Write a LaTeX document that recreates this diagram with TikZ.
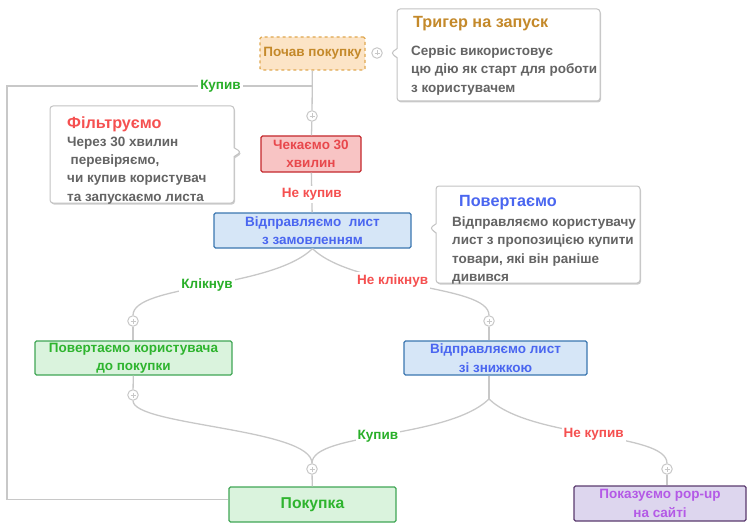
\documentclass[tikz,border=0pt]{standalone}
\usepackage{fontspec}
\setmainfont{Liberation Sans}
\usetikzlibrary{shapes,shapes.callouts,shadows,positioning}

\begin{document}
\begin{tikzpicture}[x=1pt, y=1pt,
    box/.style={draw, rectangle, rounded corners=1.5pt, line width=1.3pt, align=center,
        font=\bfseries\fontsize{13.5}{18.4}\selectfont, inner sep=0pt},
    trigbox/.style={box, dashed, draw=trigline, fill=trigfill, text=trigtext},
    waitbox/.style={box, draw=waitline, fill=waitfill, text=waittext},
    mailbox/.style={box, draw=mailline, fill=mailfill, text=mailtext},
    greenbox/.style={box, draw=greenline, fill=greenfill, text=greentext},
    popbox/.style={box, draw=popline, fill=popfill, text=poptext},
    link/.style={draw=linegray, line width=1.3pt},
    linklabel/.style={fill=white, font=\bfseries\fontsize{13.5}{15}\selectfont, inner sep=2pt},
    branchleft/.style={out=-136, in=90, out distance=58pt, in distance=31pt},
    branchright/.style={out=-44, in=90, out distance=58pt, in distance=31pt},
    plusmark/.style={circle, draw=linegray, line width=1pt, fill=white, inner sep=0pt, minimum size=10.5pt,
        path picture={\draw[linegray, line width=0.8pt]
            (path picture bounding box.center) +(-2.5pt,0) -- +(2.5pt,0)
            (path picture bounding box.center) +(0,-2.5pt) -- +(0,2.5pt);}},
    note/.style={rectangle callout, draw=notegray, line width=1pt, fill=white, rounded corners=3pt,
        callout pointer width=9pt,
        drop shadow={shadow xshift=1pt, shadow yshift=-1.5pt, opacity=0.2, fill=black}},
    notetitle/.style={anchor=base west, font=\bfseries\fontsize{16.2}{18}\selectfont, inner sep=0pt},
    notetext/.style={anchor=north west, align=left, text=notetextc,
        font=\bfseries\fontsize{13.5}{18.3}\selectfont, inner sep=0pt}]

    % Define colors for the different steps
    \definecolor{linegray}{RGB}{200,200,200}
    \definecolor{notegray}{RGB}{195,195,195}
    \definecolor{notetextc}{RGB}{100,100,100}
    \definecolor{trigfill}{RGB}{252,228,198}
    \definecolor{trigline}{RGB}{224,168,80}
    \definecolor{trigtext}{RGB}{196,137,42}
    \definecolor{waitfill}{RGB}{248,196,196}
    \definecolor{waitline}{RGB}{196,40,44}
    \definecolor{waittext}{RGB}{232,72,76}
    \definecolor{notext}{RGB}{245,80,80}
    \definecolor{mailfill}{RGB}{214,230,247}
    \definecolor{mailline}{RGB}{58,118,176}
    \definecolor{mailtext}{RGB}{74,102,240}
    \definecolor{greenfill}{RGB}{218,243,221}
    \definecolor{greenline}{RGB}{64,166,85}
    \definecolor{greentext}{RGB}{46,180,46}
    \definecolor{yestext}{RGB}{40,175,40}
    \definecolor{popfill}{RGB}{221,214,238}
    \definecolor{popline}{RGB}{90,58,110}
    \definecolor{poptext}{RGB}{180,90,230}

    \useasboundingbox (0,0) rectangle (748,-527);

    % Steps
    \node[trigbox, minimum width=105pt, minimum height=33pt] (start) at (312.5,-53.5) {Почав покупку};
    \node[waitbox, minimum width=100pt, minimum height=36pt] (wait) at (311,-154) {Чекаємо 30\\хвилин};
    \node[mailbox, minimum width=197pt, minimum height=35pt] (mail) at (312.5,-230.5) {Відправляємо\ \ лист\\з замовленням};
    \node[greenbox, minimum width=197pt, minimum height=34pt] (back) at (133.5,-358) {Повертаємо користувача\\до покупки};
    \node[mailbox, minimum width=183pt, minimum height=34pt] (discount) at (495.5,-358) {Відправляємо лист\\зі знижкою};
    \node[greenbox, minimum width=167pt, minimum height=35pt, font=\bfseries\fontsize{15.7}{18}\selectfont] (buy) at (312.5,-504.5) {Покупка};
    \node[popbox, minimum width=172pt, minimum height=35pt] (popup) at (660,-503.5) {Показуємо pop-up\\на сайті};

    % Plus marks
    \node[plusmark] (plustrig) at (377,-53) {};
    \node[plusmark] (pluswait) at (312,-116) {};
    \node[plusmark] (plusleft) at (133,-321) {};
    \node[plusmark] (plusright) at (489,-321) {};
    \node[plusmark] (plusback) at (133,-395) {};
    \node[plusmark] (plusbuy) at (312,-469) {};
    \node[plusmark] (pluspopup) at (667,-469) {};
    \coordinate (buyfork) at (312,-86);
    \coordinate (corner) at (7,-86);
    \coordinate (saleforks) at (489,-399);

    % Connectors
    \draw[link] (start) -- (pluswait) -- (wait);
    \draw[link] (buyfork) -- node[linklabel, text=yestext, pos=0.3] (boughtfirst) {Купив} (corner) |- ([yshift=5pt]buy.west);
    \draw[link] (wait) -- node[linklabel, text=notext, pos=0.55] (notboughtfirst) {Не купив} (mail);
    \draw[link] (mail.south) to[branchleft] node[linklabel, text=yestext, pos=0.5] (clicked) {Клікнув} (plusleft);
    \draw[link] (mail.south) to[branchright] node[linklabel, text=notext, pos=0.4] (notclicked) {Не клікнув} (plusright);
    \draw[link] (plusleft) -- (plusleft |- back.north);
    \draw[link] (plusright) -- (plusright |- discount.north);
    \draw[link] (back) -- (plusback);
    \draw[link] (plusback) to[out=-90, in=90, out distance=25pt, in distance=35pt] (plusbuy);
    \draw[link] (discount.south -| saleforks) -- (saleforks);
    \draw[link] (saleforks) to[branchleft] node[linklabel, text=yestext, pos=0.53] (boughtsecond) {Купив} (plusbuy);
    \draw[link] (saleforks) to[branchright] node[linklabel, text=notext, pos=0.5] (notboughtsecond) {Не купив} (pluspopup);
    \draw[link] (plusbuy) -- (buy);
    \draw[link] (pluspopup) -- (pluspopup |- popup.north);

    % Note: trigger
    \node[note, minimum width=203pt, minimum height=92pt, callout absolute pointer={(391,-53)}] (trigger) at (498.5,-55) {};
    \node[notetitle, text=trigtext] (triggerhead) at (413,-27.3) {Тригер на запуск};
    \node[notetext] (triggerbody) at (411,-45.7) {Сервіс використовує\\цю дію як старт для роботи\\з користувачем};

    % Note: filter
    \node[note, minimum width=184pt, minimum height=97pt, callout absolute pointer={(241,-152)}] (filter) at (142,-154.5) {};
    \node[notetitle, text=notext] (filterhead) at (67,-128.5) {Фільтруємо};
    \node[notetext] (filterbody) at (67,-136.7) {Через 30 хвилин\\\hspace*{3.5pt}перевіряємо,\\чи купив користувач\\та запускаємо листа};

    % Note: come back
    \node[note, minimum width=204pt, minimum height=97pt, callout absolute pointer={(430,-228)}] (comeback) at (538,-234.5) {};
    \node[notetitle, text=mailtext] (comebackhead) at (459,-206.7) {Повертаємо};
    \node[notetext] (comebackbody) at (452,-216.7) {Відправляємо користувачу\\лист з пропозицією купити\\товари, які він раніше\\дивився};

\end{tikzpicture}
\end{document}
